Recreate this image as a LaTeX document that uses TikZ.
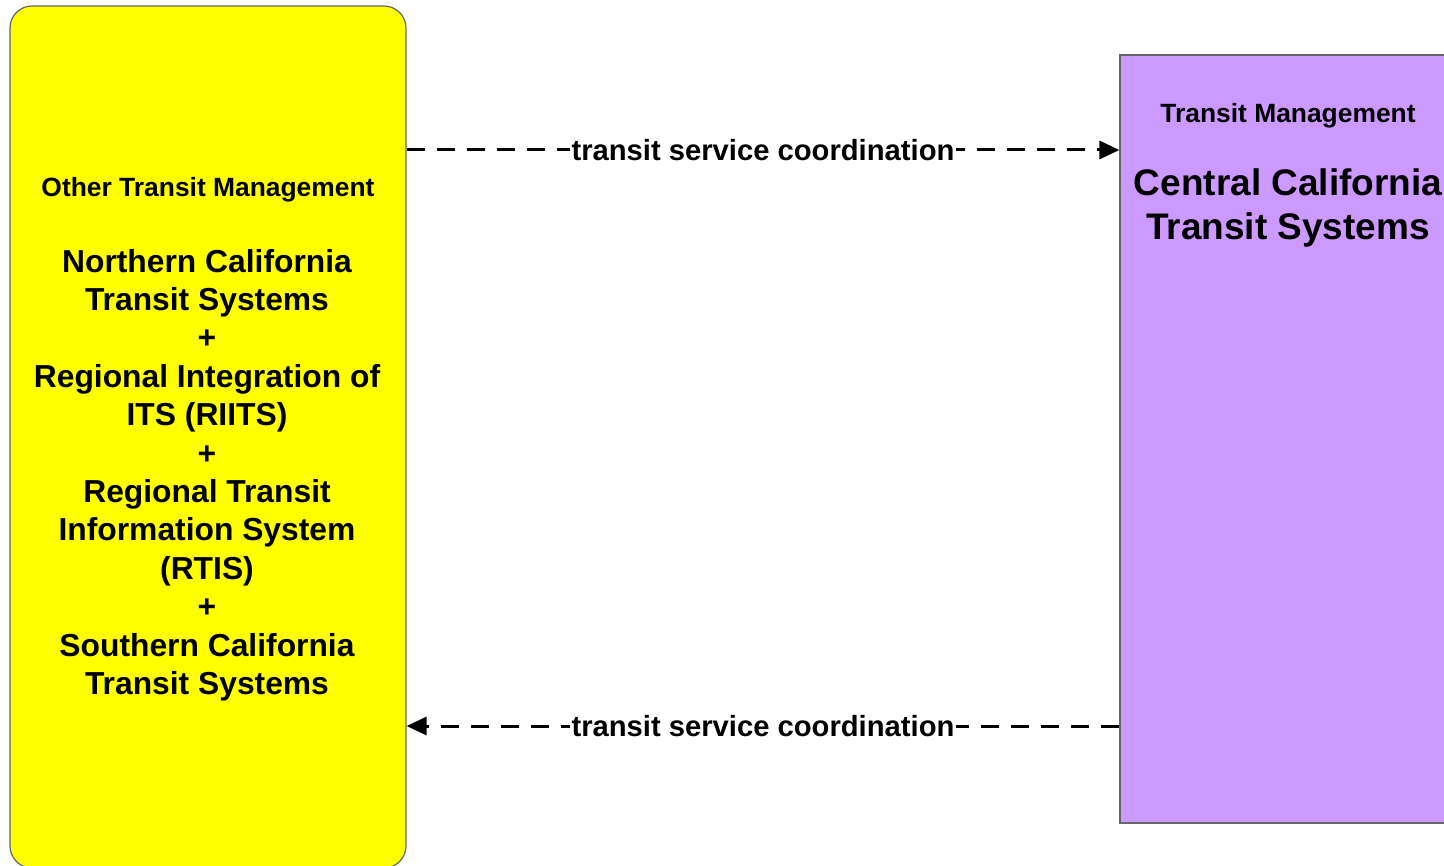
\documentclass[tikz,border=0pt]{standalone}
\usepackage{fontspec}
\setmainfont{Liberation Sans}
\usetikzlibrary{arrows.meta}
\definecolor{tmyellow}{HTML}{FFFF00}
\definecolor{tmpurple}{HTML}{CC99FF}
\definecolor{tmborder}{HTML}{666666}

\begin{document}
\begin{tikzpicture}[x=0.5pt,y=-0.5pt,
	box/.style={draw=tmborder,line width=0.6pt,inner sep=0pt},
	flow/.style={line width=1.5pt,dash pattern=on 9pt off 6pt,-{Triangle[length=10pt,width=9pt]}},
	flowlabel/.style={fill=white,inner sep=1pt,font=\fontsize{14.6}{17}\selectfont\bfseries},
	kind/.style={font=\fontsize{13.2}{16}\selectfont\bfseries,align=center},
	title/.style={align=center,inner sep=0pt}]
	\useasboundingbox (0,0) rectangle (1444,866);

	\node[box,fill=tmyellow,rounded corners=11pt,minimum width=198pt,minimum height=431pt] (other) at (208,437) {};
	\node[box,fill=tmpurple,minimum width=168pt,minimum height=384pt] (central) at (1288,439) {};

	\node[kind] (otherkind) at (208,190) {Other Transit Management};
	\node[title,font=\fontsize{15.9}{19.2}\selectfont\bfseries] (othername) at (207,475) {Northern California\\Transit Systems\\+\\Regional Integration of\\ITS (RIITS)\\+\\Regional Transit\\Information System\\(RTIS)\\+\\Southern California\\Transit Systems};

	\node[kind] (centralkind) at (1288,116) {Transit Management};
	\node[title,font=\fontsize{18.5}{22}\selectfont\bfseries] (centralname) at (1288,208) {Central California\\Transit Systems};

	\coordinate (toprow) at (0,150);
	\coordinate (bottomrow) at (0,726);
	\draw[flow] (other.east |- toprow) -- (central.west |- toprow) node[flowlabel,midway] (tolabel) {transit service coordination};
	\draw[flow] (central.west |- bottomrow) -- (other.east |- bottomrow) node[flowlabel,midway] (fromlabel) {transit service coordination};
\end{tikzpicture}
\end{document}
